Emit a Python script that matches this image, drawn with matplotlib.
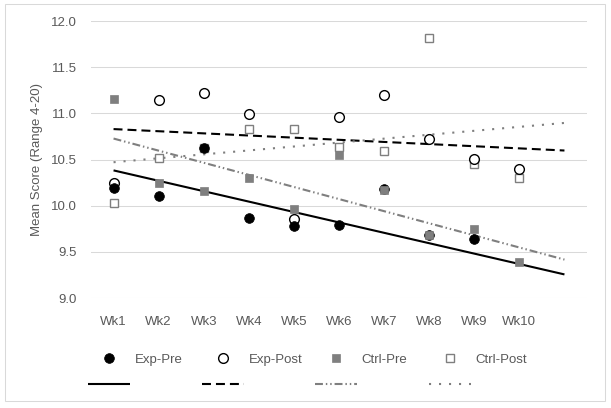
import numpy as np
import matplotlib
matplotlib.use("Agg")
import matplotlib.pyplot as plt
from matplotlib.patches import Rectangle

plt.rcParams['font.family'] = ['Liberation Sans', 'DejaVu Sans']

weeks = ["Wk1", "Wk2", "Wk3", "Wk4", "Wk5", "Wk6", "Wk7", "Wk8", "Wk9", "Wk10"]
exp_pre = [10.19, 10.10, 10.62, 9.87, 9.78, 9.79, 10.18, 9.68, 9.64, 8.90]
exp_post = [10.25, 11.14, 11.22, 10.99, 9.86, 10.96, 11.20, 10.72, 10.51, 10.40]
ctrl_pre = [11.16, 10.25, 10.16, 10.30, 9.96, 10.55, 10.17, 9.68, 9.75, 9.39]
ctrl_post = [10.03, 10.52, 10.62, 10.83, 10.83, 10.63, 10.59, 11.82, 10.45, 10.30]
series_names = ["Exp-Pre", "Exp-Post", "Ctrl-Pre", "Ctrl-Post"]

TXT = '#595959'
GRID = '#D9D9D9'
GRAY = '#7F7F7F'
FS = 9.5

fig = plt.figure(figsize=(6.11, 4.08), dpi=100)
ax = fig.add_axes([91/611, 1-298/408, 496/611, 277/408])

x = np.arange(1, len(weeks) + 1)
xt = np.array([1, len(weeks) + 1])

def trend(y):
    k, b = np.polyfit(x, np.asarray(y), 1)
    return k * xt + b

# trendlines
l1, = ax.plot(xt, trend(exp_pre), color='black', lw=1.5, solid_capstyle='butt', zorder=2)
l2, = ax.plot(xt, trend(exp_post), color='black', lw=1.5, dashes=(4.3, 2.4), dash_capstyle='butt', zorder=2)
l3, = ax.plot(xt, trend(ctrl_pre), color=GRAY, lw=1.5,
              dashes=(3.8, 1.4, 0.7, 1.4, 0.7, 1.4), dash_capstyle='butt', zorder=2)
l4, = ax.plot(xt, trend(ctrl_post), color=GRAY, lw=1.5, dashes=(1.0, 3.8), dash_capstyle='butt', zorder=2)

# markers
m4, = ax.plot(x, ctrl_post, ls='none', marker='s', ms=6.2, mfc='white', mec=GRAY, mew=1.0, zorder=3)
m2, = ax.plot(x, exp_post, ls='none', marker='o', ms=7.0, mfc='white', mec='black', mew=1.0, zorder=4)
m1, = ax.plot(x, exp_pre, ls='none', marker='o', ms=7.0, mfc='black', mec='black', mew=0.5, zorder=5)
m3, = ax.plot(x, ctrl_pre, ls='none', marker='s', ms=6.2, mfc=GRAY, mec=GRAY, mew=0.5, zorder=6)

ax.set_xlim(0.5, len(weeks) + 1.5)
ax.set_ylim(9.0, 12.0)
ax.set_yticks(np.arange(9.0, 12.01, 0.5))
ax.yaxis.set_major_formatter(matplotlib.ticker.FormatStrFormatter('%.1f'))
ax.set_xticks(x)
ax.set_xticklabels(weeks)
ax.tick_params(axis='both', length=0, labelsize=FS, labelcolor=TXT)
ax.tick_params(axis='y', pad=10)
ax.tick_params(axis='x', pad=13)
ax.grid(axis='y', color=GRID, lw=0.75)
ax.set_axisbelow(True)
for s in ax.spines.values():
    s.set_visible(False)

ax.set_ylabel("Mean Score (Range 4-20)", fontsize=FS, color=TXT)
ax.yaxis.set_label_coords((43-91)/496, (298-159.5)/277)

# legends: one per column
marks = [m1, m2, m3, m4]
lines = [l1, l2, l3, l4]
col_x = [87.5, 201.7, 314.6, 428.5]
for mk, ln, name, cx in zip(marks, lines, series_names, col_x):
    lg = fig.legend([mk, ln], [name, ""], loc='center left',
                    bbox_to_anchor=(cx/611, 1-372.6/408), frameon=False,
                    fontsize=FS, handlelength=3.2, handletextpad=0.38,
                    labelspacing=1.0, borderpad=0, borderaxespad=0)
    for t in lg.get_texts():
        t.set_color(TXT)

fig.patches.append(Rectangle((5/611, 1-401/408), 600/611, 397/408,
                             transform=fig.transFigure, fill=False,
                             edgecolor=GRID, lw=0.75))

fig.savefig("out.png", dpi=100)
